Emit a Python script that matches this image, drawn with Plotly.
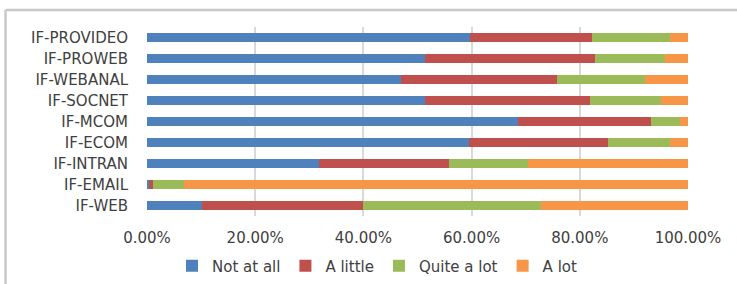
import plotly.graph_objects as go

categories = ["IF-WEB", "IF-EMAIL", "IF-INTRAN", "IF-ECOM", "IF-MCOM",
              "IF-SOCNET", "IF-WEBANAL", "IF-PROWEB", "IF-PROVIDEO"]
not_at_all = [0.101, 0.003, 0.318, 0.596, 0.685, 0.514, 0.470, 0.514, 0.597]
a_little   = [0.299, 0.009, 0.241, 0.256, 0.246, 0.304, 0.288, 0.314, 0.226]
quite_lot  = [0.328, 0.056, 0.146, 0.115, 0.054, 0.133, 0.163, 0.129, 0.144]
a_lot      = [0.272, 0.932, 0.295, 0.033, 0.015, 0.049, 0.079, 0.043, 0.033]
x_ticks = [0, 0.2, 0.4, 0.6, 0.8, 1.0]

series = [("Not at all", not_at_all, "#4F81BD"),
          ("A little", a_little, "#C0504D"),
          ("Quite a lot", quite_lot, "#9BBB59"),
          ("A lot", a_lot, "#F79646")]

fig = go.Figure()
for name, vals, col in series:
    fig.add_trace(go.Bar(y=categories, x=vals, name=name, orientation="h",
                         marker=dict(color=col, line=dict(width=0)),
                         hoverinfo="x+y+name"))

W, H = 737, 284
L, R, T, B = 147, 688, 27, 216
FONT = "DejaVu Sans, Open Sans, sans-serif"


def px_x(p):
    return (p - L) / (R - L)


def px_y(p):
    return (B - p) / (B - T)


frame = dict(color="#c8c8c8", width=2.5)
fig.update_layout(
    width=W, height=H, barmode="stack", bargap=0.6,
    margin=dict(l=L, r=W - R, t=T, b=H - B, pad=0, autoexpand=False),
    paper_bgcolor="white", plot_bgcolor="white",
    font=dict(family=FONT, size=15, color="#404040"),
    showlegend=True,
    legend=dict(orientation="h", x=px_x(172), xanchor="left",
                y=px_y(266), yanchor="middle",
                font=dict(family=FONT, size=15, color="#404040"), traceorder="normal",
                itemwidth=30, tracegroupgap=0),
    xaxis=dict(range=[0, 1], tickvals=x_ticks, tickformat=".2%",
               showgrid=True, gridcolor="#d9d9d9", gridwidth=1.5,
               zeroline=False, showline=False, ticks="",
               ticklabelstandoff=11, fixedrange=True),
    yaxis=dict(showgrid=False, zeroline=False, showline=False, ticks="",
               ticklabelstandoff=18, fixedrange=True),
    shapes=[
        dict(type="line", xref="paper", yref="paper",
             x0=px_x(5.5), x1=px_x(737), y0=px_y(10), y1=px_y(10),
             line=frame, layer="above"),
        dict(type="line", xref="paper", yref="paper",
             x0=px_x(5.5), x1=px_x(5.5), y0=px_y(10), y1=px_y(284),
             line=frame, layer="above"),
    ],
)
fig.write_html("out.html", config={"displayModeBar": False},
               post_script="document.body.style.margin='0';")
